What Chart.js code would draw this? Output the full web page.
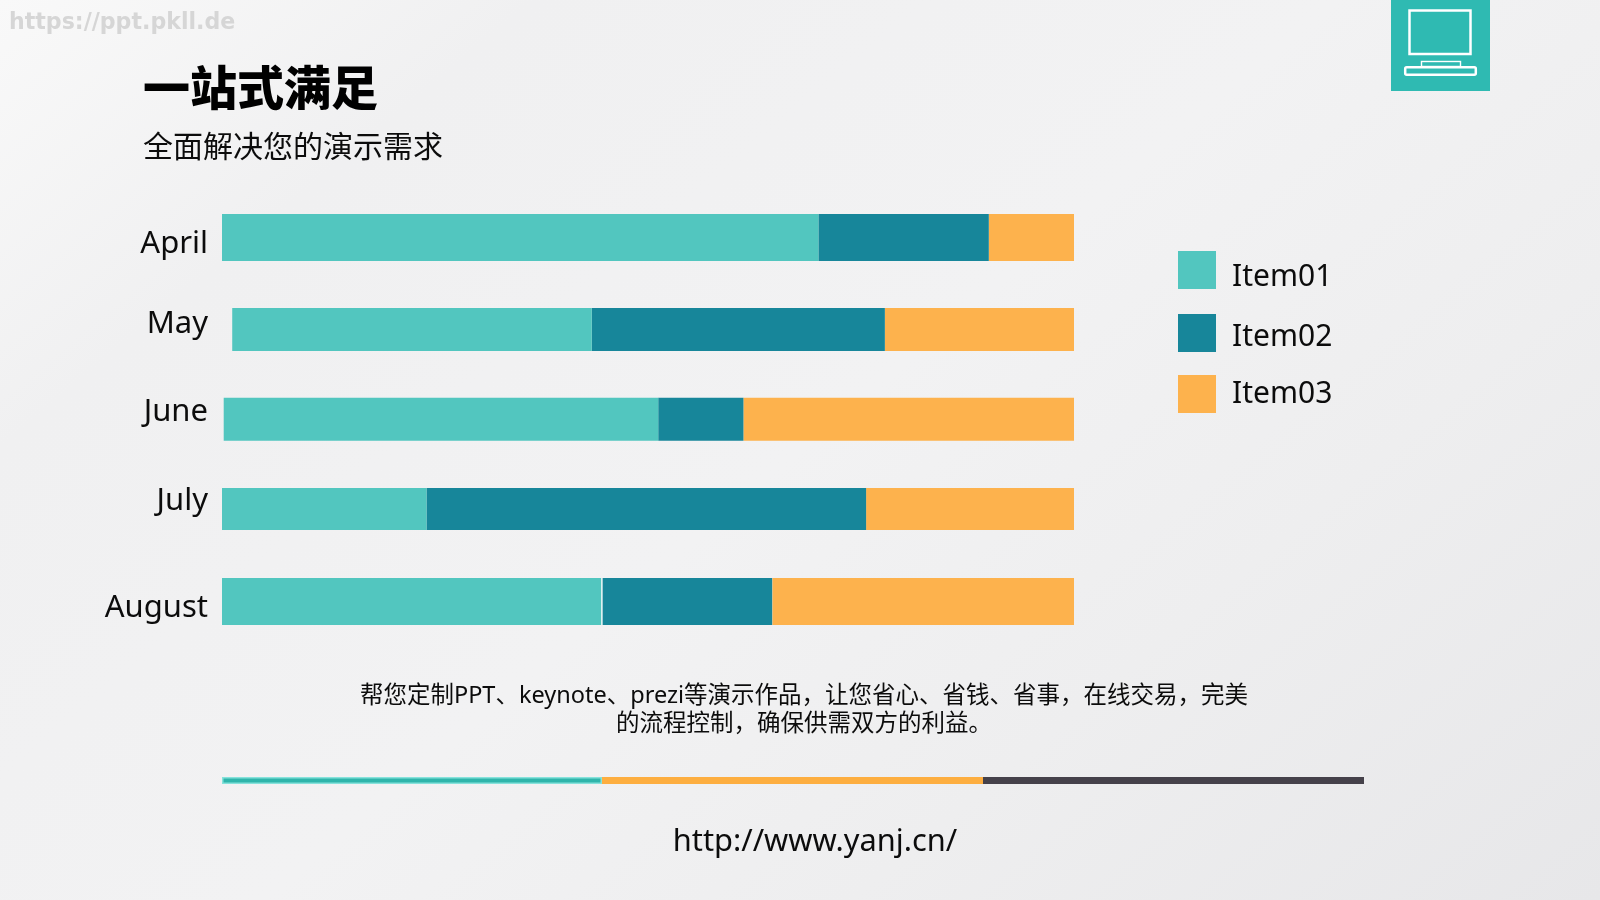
<!DOCTYPE html>
<html lang="zh-CN">
<head>
<meta charset="utf-8">
<title>一站式满足</title>
<script src="https://cdn.jsdelivr.net/npm/chart.js@4/dist/chart.umd.min.js"></script>
<style>
  html, body { margin: 0; padding: 0; }
  body {
    width: 1600px; height: 900px; overflow: hidden; position: relative;
    background: linear-gradient(140deg, #f9f9f9 0%, #f0f0f1 20%, #f2f2f3 50%, #eeeeef 72%, #e7e7e9 100%);
    font-family: "Noto Sans", "Noto Sans CJK SC", sans-serif; color: #0c0c0c;
  }
  .t { position: absolute; white-space: nowrap; line-height: 1; }
  #stage { position: absolute; left: 0; top: 0; width: 1600px; height: 900px; }
  #mark { left: 9px; top: 8px; font: bold 22.1px "DejaVu Sans", sans-serif; color: #d6d6d6; }
  #title { left: 143px; top: 50px; font: 900 47px "Noto Sans CJK SC", sans-serif; color: #000; }
  #sub { left: 143px; top: 122px; font: 400 30px "Noto Sans CJK SC", sans-serif; color: #0c0c0c; }
  #note { left: 300px; width: 1008px; top: 680px; text-align: center; font-size: 23.5px; line-height: 28px; white-space: normal; }
  #url { left: 604px; width: 422px; top: 819px; text-align: center; font-size: 30.8px; line-height: 40px; }
  #tile { position: absolute; left: 1391px; top: 0; width: 99px; height: 91px; background: #2fbab2; }
  .rule { position: absolute; top: 777px; height: 7px; }
  .swatch { position: absolute; left: 1178px; width: 38px; height: 38px; }
  .key { position: absolute; left: 1232px; font-size: 30px; line-height: 40px; white-space: nowrap; }
</style>
</head>
<body>
<canvas id="stage" width="1600" height="900"></canvas>
<div class="t" id="mark">https://ppt.pkll.de</div>
<div class="t" id="title">一站式满足</div>
<div class="t" id="sub">全面解决您的演示需求</div>
<div class="t" id="note">帮您定制PPT、keynote、prezi等演示作品，让您省心、省钱、省事，在线交易，完美<br>的流程控制，确保供需双方的利益。</div>
<div class="t" id="url">http://www.yanj.cn/</div>
<div id="tile">
  <svg width="99" height="91" viewBox="0 0 99 91" fill="none" stroke="#ffffff" stroke-width="2.5">
    <rect x="18.5" y="10.5" width="61" height="43.5"/>
    <rect x="30.5" y="61.5" width="39" height="5" stroke-width="1.4"/>
    <rect x="14.2" y="67.2" width="70.6" height="7.6" rx="1.5"/>
  </svg>
</div>
<div class="rule" style="left:222px;width:380px;background:#2fb5ab;box-shadow:inset 0 0 0 1.5px #86e2db"></div>
<div class="rule" style="left:602px;width:381px;background:#fdae40"></div>
<div class="rule" style="left:983px;width:381px;background:#45414a"></div>
<div id="legend"></div>

<script>
// Share of each month per item, on a 0-100 axis
const months = ["April", "May", "June", "July", "August"];
const rowStart = [0, 1.2, 0.2, 0, 0];
const item01 = [70, 42.2, 51, 24, 44.5];
const item02 = [20, 34.4, 10, 51.6, 20.1];
const item03 = [10, 22.2, 38.8, 24.4, 35.4];

const itemNames = ["Item01", "Item02", "Item03"];
const itemColors = ["#52c6bf", "#17869a", "#fdb24d"];

// Per-row drawing adjustments for the hand-arranged layout
const rowThickness = [47, 43, 43, 42, 47];
const rowShift = [0, 1, -0.2, -1.5, 0];
const labelShift = [7, -4, -7.5, -9, 7];

// Legend row positions
const swatchTops = [251, 314, 375];
const keyTops = [255, 315, 372];

function spans(series) {
  const out = [];
  let edge = rowStart.slice();
  series.forEach(values => {
    const next = edge.map((e, i) => e + values[i]);
    out.push(edge.map((e, i) => [e, next[i]]));
    edge = next;
  });
  return out;
}

const ranges = spans([item01, item02, item03]);

const rowLayout = {
  id: "rowLayout",
  afterDatasetsUpdate(chart) {
    chart.data.datasets.forEach((_, d) => {
      chart.getDatasetMeta(d).data.forEach((bar, i) => {
        bar.y += rowShift[i];
        bar.height = rowThickness[i];
      });
    });
  },
  beforeDraw(chart) {
    const scale = chart.scales.y;
    scale._labelItems = null;
    scale.getLabelItems().forEach((item, i) => {
      item.options.translation[1] += labelShift[i];
    });
  }
};

const chart = new Chart(document.getElementById("stage"), {
  type: "bar",
  data: {
    labels: months,
    datasets: itemNames.map((name, k) => ({
      label: name,
      data: ranges[k],
      backgroundColor: itemColors[k],
      // The August row has a pale seam between its first two segments
      borderColor: "#f2fbfa",
      borderWidth: ctx => (k === 1 && ctx.dataIndex === 4 ? { left: 1.5 } : 0),
      borderSkipped: false
    }))
  },
  options: {
    indexAxis: "y",
    responsive: false,
    animation: false,
    layout: { padding: { left: 0, right: 526, top: 192, bottom: 253 } },
    plugins: { legend: { display: false }, tooltip: { enabled: false } },
    scales: {
      x: { display: false, min: 0, max: 100 },
      y: {
        stacked: true,
        grid: { display: false, drawTicks: false },
        border: { display: false },
        ticks: {
          color: "#0c0c0c",
          padding: 14,
          font: { family: '"Noto Sans", sans-serif', size: 31 }
        },
        afterFit(scale) { scale.width = 222; }
      }
    }
  },
  plugins: [rowLayout]
});

// Legend rows built from the chart's own datasets
const legend = document.getElementById("legend");
chart.data.datasets.forEach((ds, k) => {
  const s = document.createElement("div");
  s.className = "swatch";
  s.style.top = swatchTops[k] + "px";
  s.style.background = ds.backgroundColor;
  const t = document.createElement("div");
  t.className = "key";
  t.style.top = keyTops[k] + "px";
  t.textContent = ds.label;
  legend.append(s, t);
});
</script>
</body>
</html>
